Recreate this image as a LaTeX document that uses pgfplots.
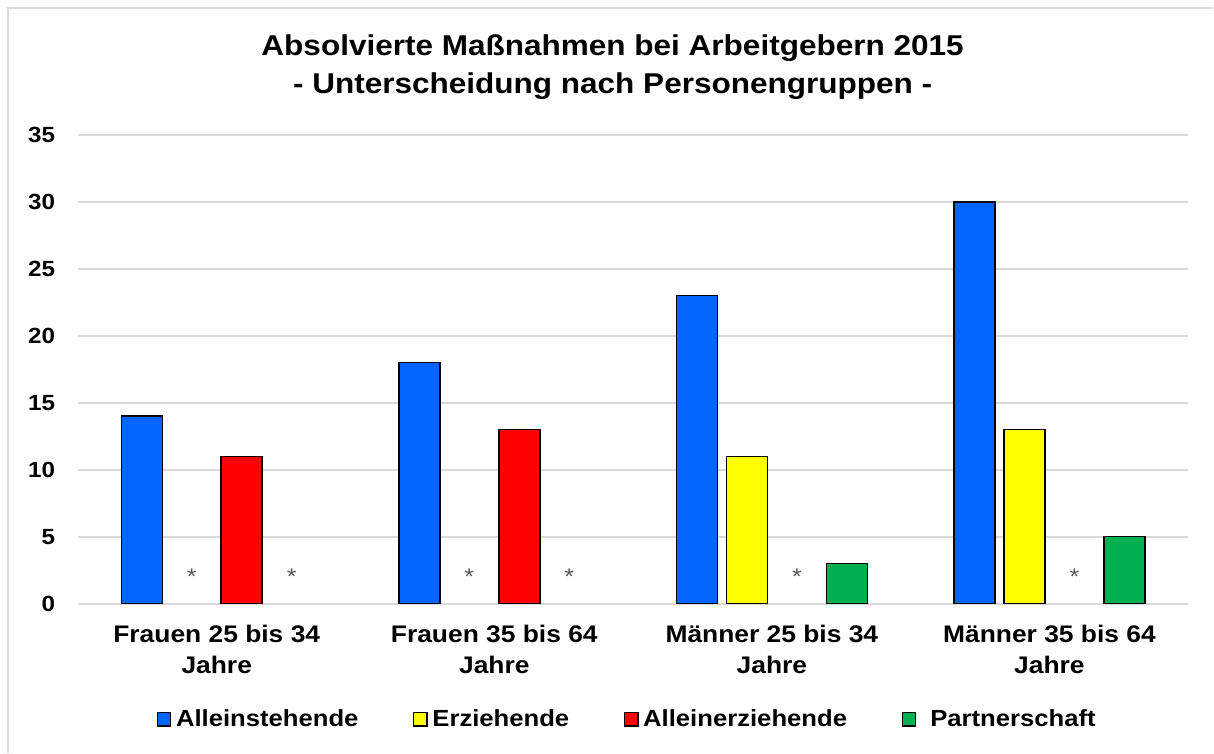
\documentclass[border=0pt]{standalone}
\usepackage{pgfplots}
\pgfplotsset{compat=1.18}
\usepackage{fontspec}
\setmainfont{Liberation Sans}[FakeStretch=1.1]

\definecolor{cblue}{HTML}{0066FF}
\definecolor{cyellow}{HTML}{FFFF00}
\definecolor{cred}{HTML}{FF0000}
\definecolor{cgreen}{HTML}{00B050}
\definecolor{gridgray}{HTML}{D9D9D9}
\definecolor{stargray}{HTML}{595959}

\begin{document}
\begin{tikzpicture}
% page size and frame (1px = 0.75pt, origin bottom left)
\path (0pt,0pt) rectangle (910.5pt,564.75pt);
\draw[gridgray, line width=1.2pt] (6pt,0pt) -- (6pt,558.75pt) -- (910.5pt,558.75pt);

\node[font=\bfseries\fontsize{21.5}{28.5}\selectfont, align=center] at (459.75pt,514.5pt)
  {Absolvierte Maßnahmen bei Arbeitgebern 2015\\- Unterscheidung nach Personengruppen -};

\begin{axis}[
    at={(58.5pt,111.75pt)}, anchor=south west,
    scale only axis,
    width=833.25pt, height=351.75pt,
    xmin=-0.5, xmax=3.5,
    ymin=0, ymax=35,
    xtick={0,1,2,3},
    xticklabels={{Frauen 25 bis 34\\Jahre},{Frauen 35 bis 64\\Jahre},{Männer 25 bis 34\\Jahre},{Männer 35 bis 64\\Jahre}},
    xticklabel style={align=center, inner sep=0pt, anchor=north, yshift=-16pt,
        font=\bfseries\fontsize{18}{23.25}\selectfont},
    ytick={0,5,...,35},
    yticklabel style={inner sep=0pt, anchor=east, xshift=-17pt,
        font=\bfseries\fontsize{16.5}{20}\selectfont},
    /pgf/number format/assume math mode=true,
    axis line style={draw=none},
    tick style={draw=none},
    ymajorgrids=true,
    major grid style={gridgray, line width=1.5pt},
    bar width=30.75pt,
    legend style={at={(0.495,-0.247)}, anchor=center, draw=none, fill=none,
        font=\bfseries\fontsize{17.5}{20}\selectfont,
        /tikz/every even column/.append style={column sep=39pt},
        /tikz/every odd column/.append style={column sep=1.5pt}},
    legend columns=4,
    legend image code/.code={\draw[#1, line width=1pt] (0pt,-5pt) rectangle (10pt,5pt);},
]

\addplot[ybar, bar shift=-56.25pt, draw=black, line width=1.1pt, fill=cblue] coordinates {(0,14) (1,18) (2,23) (3,30)};
\addplot[ybar, bar shift=-18.75pt, draw=black, line width=1.1pt, fill=cyellow] coordinates {(2,11) (3,13)};
\addplot[ybar, bar shift=18.75pt, draw=black, line width=1.1pt, fill=cred] coordinates {(0,11) (1,13)};
\addplot[ybar, bar shift=56.25pt, draw=black, line width=1.1pt, fill=cgreen] coordinates {(2,3) (3,5)};
\legend{Alleinstehende,Erziehende,Alleinerziehende,\hspace{7pt}Partnerschaft}

% asterisks for suppressed values (x offsets = bar shift in axis units)
\addplot[draw=none, mark=none, forget plot,
    nodes near coords={*},
    every node near coord/.append style={anchor=base, inner sep=0pt, yshift=14pt,
        text=stargray, font=\fontsize{17}{17}\selectfont}]
    coordinates {(-0.09,0) (0.27,0) (0.91,0) (1.27,0) (2.09,0) (3.09,0)};
\end{axis}
\end{tikzpicture}
\end{document}
